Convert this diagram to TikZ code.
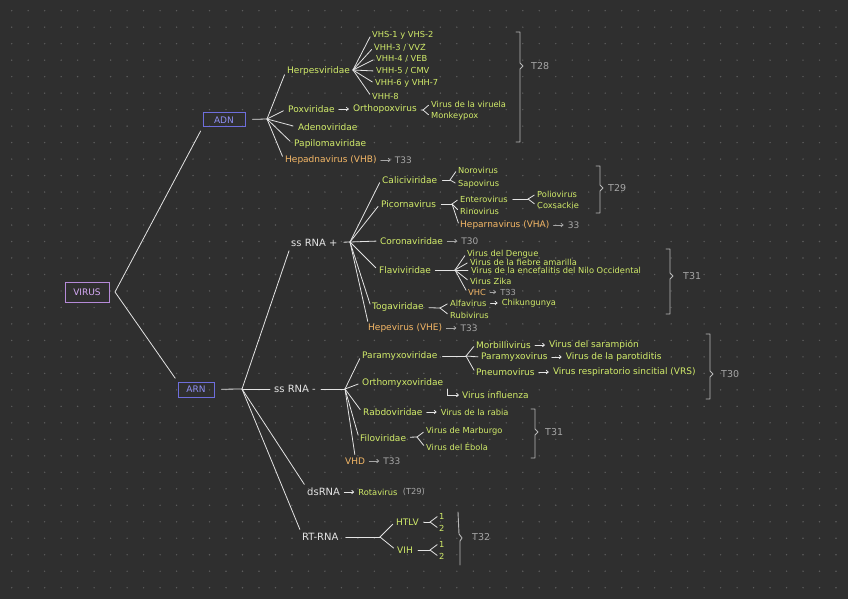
\documentclass[tikz,border=0pt]{standalone}
\usepackage{fontspec}
\setmainfont{DejaVu Sans}
\usetikzlibrary{calc}
\usetikzlibrary{positioning}
\usetikzlibrary{arrows.meta}

\definecolor{cBg}{HTML}{2F2F2F}
\definecolor{cDot}{HTML}{5C5C5C}
\definecolor{cGrn}{HTML}{D2EC6A}
\definecolor{cOrg}{HTML}{F4B766}
\definecolor{cGry}{HTML}{A6A6A6}
\definecolor{cWht}{HTML}{E4E4E4}
\definecolor{cBlu}{HTML}{6E6EDC}
\definecolor{cBluT}{HTML}{9090F4}
\definecolor{cLil}{HTML}{B58AD8}
\definecolor{cLilT}{HTML}{D4A8F4}

% bracket: x, top, bottom, tip
\newcommand{\tbrak}[4]{\draw[brk] (#1-4,#2) -- (#1,#2) -- (#1,#4-3) -- (#1+3,#4) -- (#1,#4+3) -- (#1,#3) -- (#1-4,#3);}

\begin{document}
\begin{tikzpicture}[x=1pt,y=-1pt,inner sep=1pt,node distance=16pt,
  grnl/.style={text=cGrn,anchor=west,font=\fontsize{9}{10}\selectfont},
  smll/.style={font=\fontsize{8.3}{9}\selectfont},
  orgl/.style={grnl,text=cOrg},
  gryl/.style={grnl,text=cGry},
  whtl/.style={grnl,text=cWht,font=\fontsize{10}{11}\selectfont},
  tlab/.style={gryl,font=\fontsize{9.5}{11}\selectfont},
  box/.style={draw,line width=1pt,inner sep=0pt,font=\fontsize{9}{10}\selectfont},
  ln/.style={draw=cWht,line width=0.8pt,line cap=round},
  ar/.style={ln,-{Straight Barb[length=2pt,width=3.5pt]},shorten <=3pt,shorten >=3pt},
  rar/.style={ar,draw=cGry},
  brk/.style={draw=cGry!80!white,line width=0.9pt,line cap=round,line join=round}]
\fill[cBg] (0,0) rectangle (848,599);
\useasboundingbox (0,0) rectangle (848,599);
\foreach \i in {0,...,50}
  \foreach \j in {0,...,35}
    \fill[cDot] ({11.7+16.486*\i},{10.7+16.486*\j}) circle (0.8);

% top level
\node[box,draw=cLil,text=cLilT,minimum width=44pt,minimum height=20pt] (virus) at (87,292) {VIRUS};
\node[box,draw=cBlu,text=cBluT,minimum width=42pt,minimum height=14pt] (adn) at (224,120) {ADN};
\node[box,draw=cBlu,text=cBluT,minimum width=36pt,minimum height=15pt] (arn) at (196,389.5) {ARN};
\coordinate (v0) at (115,292);
\draw[ln,shorten <=4pt,shorten >=4pt] (adn.south west) -- (v0) -- (arn.north west);

% ADN
\coordinate (a0) at (267,119);
\draw[ln,shorten <=7pt] (adn) -- (a0);
\node[grnl] (herpes) at (286,71) {Herpesviridae};
\node[grnl] (pox) at (287,109) {Poxviridae};
\node[grnl,right=of pox] (ortho) {Orthopoxvirus};
\node[grnl] (adeno) at (297,127) {Adenoviridae};
\node[grnl] (papilo) at (293,144) {Papilomaviridae};
\node[orgl] (hepadna) at (284,160) {Hepadnavirus (VHB)};
\node[gryl,right=of hepadna] (t33a) {T33};
\foreach \n in {herpes,pox,adeno,papilo,hepadna}
  \draw[ln,shorten >=4pt] (a0) -- (\n.west);
\draw[ar] (pox) -- (ortho);
\draw[rar] (hepadna) -- (t33a);

\coordinate (hp) at (353,70);
\draw[ln,shorten <=2pt] (herpes) -- (hp);
\node[grnl,smll] (h1) at (371,35) {VHS-1 y VHS-2};
\node[grnl,smll] (h2) at (373,48) {VHH-3 / VVZ};
\node[grnl,smll] (h3) at (375,59) {VHH-4 / VEB};
\node[grnl,smll] (h4) at (375,71) {VHH-5 / CMV};
\node[grnl,smll] (h5) at (374,83) {VHH-6 y VHH-7};
\node[grnl,smll] (h6) at (371,96) {VHH-8};
\foreach \n in {h1,h2,h3,h4,h5,h6}
  \draw[ln,shorten >=2pt] (hp) -- (\n.west);

\coordinate (op) at (423,110);
\draw[ln,shorten <=3pt] (ortho) -- (op);
\node[grnl,smll] (viruela) at (430,104) {Virus de la viruela};
\node[grnl,smll] (monkey) at (430,116) {Monkeypox};
\draw[ln,shorten >=2pt] (op) -- (viruela.west);
\draw[ln,shorten >=2pt] (op) -- (monkey.west);

\tbrak{520}{32}{142}{66}
\node[tlab] (t28) at (530,66) {T28};

% ARN
\coordinate (r0) at (242,389);
\draw[ln,shorten <=7pt] (arn) -- (r0);
\node[whtl] (ssp) at (290,243) {ss RNA +};
\node[whtl] (ssm) at (273,389) {ss RNA -};
\node[whtl] (dsrna) at (306,492) {dsRNA};
\node[whtl] (rtrna) at (301,537) {RT-RNA};
\draw[ln,shorten >=3pt] (r0) -- (ssp.south west);
\draw[ln,shorten >=3pt] (r0) -- (ssm);
\draw[ln,shorten >=3pt] (r0) -- (dsrna.north west);
\draw[ln,shorten >=3pt] (r0) -- (rtrna.north west);

% ss RNA +
\coordinate (p0) at (350,242);
\draw[ln,shorten <=5pt] (ssp) -- (p0);
\node[grnl] (calici) at (381,180) {Caliciviridae};
\node[grnl] (picorna) at (380,204) {Picornavirus};
\node[grnl] (corona) at (379,241) {Coronaviridae};
\node[grnl] (flavi) at (378,270) {Flaviviridae};
\node[grnl] (toga) at (371,307) {Togaviridae};
\node[orgl] (hepe) at (367,328) {Hepevirus (VHE)};
\foreach \n in {calici,picorna,corona,flavi,toga}
  \draw[ln,shorten >=3pt] (p0) -- (\n.west);
\draw[ln,shorten >=1pt] (p0) -- ([xshift=1pt]hepe.north west);
\node[gryl,right=of corona] (t30a) {T30};
\node[gryl,right=of hepe] (t33d) {T33};
\draw[rar] (corona) -- (t30a);
\draw[rar] (hepe) -- (t33d);

\coordinate (cp) at (450,180);
\draw[ln,shorten <=4pt] (calici) -- (cp);
\node[grnl,smll] (noro) at (457,170) {Norovirus};
\node[grnl,smll] (sapo) at (457,184) {Sapovirus};
\draw[ln,shorten >=2pt] (cp) -- (noro.west);
\draw[ln,shorten >=2pt] (cp) -- (sapo.west);

\coordinate (pp) at (452,204);
\draw[ln,shorten <=4pt] (picorna) -- (pp);
\node[grnl,smll] (entero) at (459,199) {Enterovirus};
\node[grnl,smll] (rino) at (459,211) {Rinovirus};
\node[orgl] (heparna) at (459,225) {Heparnavirus (VHA)};
\node[gryl,right=of heparna] (t33b) {33};
\foreach \n in {entero,rino,heparna}
  \draw[ln,shorten >=2pt] (pp) -- (\n.west);
\draw[rar] (heparna) -- (t33b);
\coordinate (ep) at (528,199);
\draw[ln,shorten <=4pt] (entero) -- (ep);
\node[grnl,smll] (polio) at (536,194) {Poliovirus};
\node[grnl,smll] (coxs) at (536,205) {Coxsackie};
\draw[ln,shorten >=2pt] (ep) -- (polio.west);
\draw[ln,shorten >=2pt] (ep) -- (coxs.west);
\tbrak{600}{166}{213}{188}
\node[tlab] (t29a) at (607,188) {T29};

\coordinate (fp) at (455,270);
\draw[ln,shorten <=3pt] (flavi) -- (fp);
\node[grnl,smll] (dengue) at (466,254) {Virus del Dengue};
\node[grnl,smll] (fiebre) at (469,262) {Virus de la fiebre amarilla};
\node[grnl,smll] (nilo) at (470,270) {Virus de la encefalitis del Nilo Occidental};
\node[grnl,smll] (zika) at (469,281) {Virus Zika};
\node[orgl,smll] (vhc) at (467,292) {VHC};
\node[gryl,smll,right=12pt of vhc] (t33c) {T33};
\foreach \n in {dengue,fiebre,nilo,zika,vhc}
  \draw[ln,shorten >=2pt] (fp) -- (\n.west);
\draw[rar] (vhc) -- (t33c);
\tbrak{670}{249}{314}{276}
\node[tlab] (t31a) at (682,276) {T31};

\coordinate (tp) at (440,308);
\draw[ln,shorten <=4pt] (toga) -- (tp);
\node[grnl,smll] (alfa) at (449,303) {Alfavirus};
\node[grnl,smll,right=13pt of alfa] (chik) {Chikungunya};
\node[grnl,smll] (rubi) at (449,315) {Rubivirus};
\draw[ln,shorten >=2pt] (tp) -- (alfa.west);
\draw[ln,shorten >=2pt] (tp) -- (rubi.west);
\draw[ar] (alfa) -- (chik);

% ss RNA -
\coordinate (m0) at (345,389);
\draw[ln,shorten <=4pt] (ssm) -- (m0);
\node[grnl] (paramyxo) at (361,356) {Paramyxoviridae};
\node[grnl] (orthomyxo) at (361,383) {Orthomyxoviridae};
\node[grnl] (rabdo) at (362,412) {Rabdoviridae};
\node[grnl] (filo) at (359,438) {Filoviridae};
\node[orgl] (vhd) at (344,461) {VHD};
\foreach \n in {paramyxo,orthomyxo,rabdo,filo}
  \draw[ln,shorten >=3pt] (m0) -- (\n.west);
\draw[ln,shorten >=2pt] (m0) -- (vhd.north);
\node[gryl,right=of vhd] (t33e) {T33};
\draw[rar] (vhd) -- (t33e);

\coordinate (pm) at (466,356);
\draw[ln,shorten <=4pt] (paramyxo) -- (pm);
\node[grnl] (morbi) at (475,345) {Morbillivirus};
\node[grnl,right=of morbi] (sarampion) {Virus del sarampión};
\node[grnl] (pmv) at (480,357) {Paramyxovirus};
\node[grnl,right=of pmv] (parot) {Virus de la parotiditis};
\node[grnl] (pneumo) at (475,372) {Pneumovirus};
\node[grnl,right=of pneumo] (vrs) {Virus respiratorio sincitial (VRS)};
\foreach \n in {morbi,pmv,pneumo}
  \draw[ln,shorten >=2pt] (pm) -- (\n.west);
\draw[ar] (morbi) -- (sarampion);
\draw[ar] (pmv) -- (parot);
\draw[ar] (pneumo) -- (vrs);
\tbrak{710}{334}{399}{374}
\node[tlab] (t30b) at (720,374) {T30};

\coordinate (hk) at (447,389);
\node[grnl] (flu) at (461,395) {Virus influenza};
\draw[ln,-{Straight Barb[length=2pt,width=3.5pt]},shorten >=2pt] (hk) |- (flu);

\node[grnl,smll,right=of rabdo] (rabia) {Virus de la rabia};
\draw[ar] (rabdo) -- (rabia);

\coordinate (fl) at (417,437);
\draw[ln,shorten <=3pt] (filo) -- (fl);
\node[grnl,smll] (marburgo) at (425,431) {Virus de Marburgo};
\node[grnl,smll] (ebola) at (425,447) {Virus del Ébola};
\draw[ln,shorten >=2pt] (fl) -- (marburgo.west);
\draw[ln,shorten >=2pt] (fl) -- (ebola.west);
\tbrak{535}{409}{458}{432}
\node[tlab] (t31b) at (544,432) {T31};

% dsRNA
\node[grnl,smll,right=of dsrna] (rota) {Rotavirus};
\node[gryl,smll,right=3pt of rota] (t29b) {(T29)};
\draw[ar] (dsrna) -- (rota);

% RT-RNA
\coordinate (rt) at (380,537);
\draw[ln,shorten <=6pt] (rtrna) -- (rt);
\node[grnl] (htlv) at (395,522) {HTLV};
\node[grnl] (vih) at (396,550) {VIH};
\draw[ln,shorten >=3pt] (rt) -- (htlv.west);
\draw[ln,shorten >=3pt] (rt) -- (vih.west);
\coordinate (hf) at (430,522);
\coordinate (vf) at (430,550);
\draw[ln,shorten <=4pt] (htlv) -- (hf);
\draw[ln,shorten <=4pt] (vih) -- (vf);
\node[grnl,smll] (n1a) at (438,516) {1};
\node[grnl,smll] (n2a) at (438,528) {2};
\node[grnl,smll] (n1b) at (438,544) {1};
\node[grnl,smll] (n2b) at (438,556) {2};
\draw[ln,shorten >=1pt] (hf) -- (n1a.west);
\draw[ln,shorten >=1pt] (hf) -- (n2a.west);
\draw[ln,shorten >=1pt] (vf) -- (n1b.west);
\draw[ln,shorten >=1pt] (vf) -- (n2b.west);
\draw[brk] (458,512) -- (459,534) -- (462,538) -- (460,541) -- (460,565);
\node[tlab] (t32) at (471,537) {T32};
\end{tikzpicture}
\end{document}
